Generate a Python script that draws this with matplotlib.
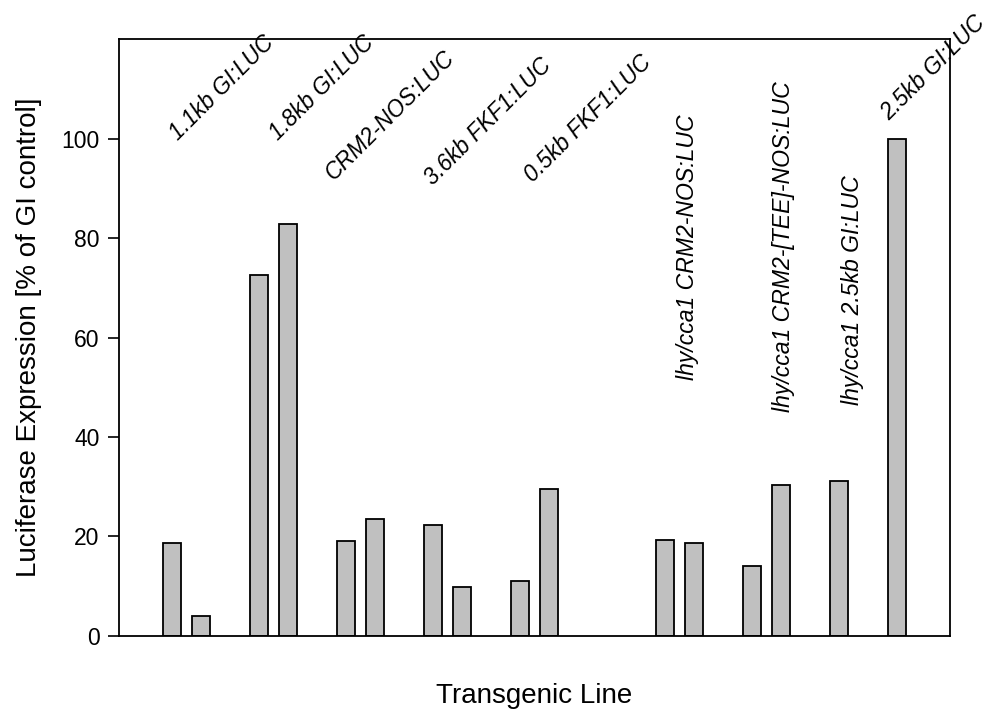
import matplotlib
matplotlib.use("Agg")
import matplotlib.pyplot as plt

# bar positions (slots) and values
positions = [0, 1, 3, 4, 6, 7, 9, 10, 12, 13, 17, 18, 20, 21, 23, 25]
values = [18.7, 4.1, 72.5, 82.9, 19.1, 23.5, 22.4, 9.9, 11.1, 29.5,
          19.3, 18.7, 14.1, 30.3, 31.2, 100.0]

# angled group labels
angled_labels = ["1.1kb GI:LUC", "1.8kb GI:LUC", "CRM2-NOS:LUC",
                 "3.6kb FKF1:LUC", "0.5kb FKF1:LUC", "2.5kb GI:LUC"]
angled_x = [0.2, 3.65, 5.6, 9.0, 12.45, 24.75]
angled_y = [99.5, 99.5, 91.5, 90.5, 91.0, 103.5]

# vertical group labels
vert_labels = ["lhy/cca1 CRM2-NOS:LUC", "lhy/cca1 CRM2-[TEE]-NOS:LUC",
               "lhy/cca1 2.5kb GI:LUC"]
vert_x = [17.77, 21.08, 23.46]
vert_y = [51.4, 45.0, 46.4]

plt.rcParams['font.family'] = ['Liberation Sans', 'DejaVu Sans']

fig = plt.figure(figsize=(9.92, 7.11), dpi=100)
ax = fig.add_axes([0.12, 0.1055, 0.8377, 0.8396])

ax.bar(positions, values, width=0.62, color='#c0c0c0',
       edgecolor='black', linewidth=1.3)

ax.set_xlim(-1.82, 26.84)
ax.set_ylim(0, 120)
ax.set_yticks([0, 20, 40, 60, 80, 100])
ax.set_xticks([])
ax.tick_params(axis='y', direction='out', length=8, width=1.2,
               labelsize=16.5, pad=6)
for s in ax.spines.values():
    s.set_linewidth(1.3)

for t, x, y in zip(angled_labels, angled_x, angled_y):
    ax.text(x, y, t, rotation=45, rotation_mode='anchor', ha='left',
            va='baseline', fontsize=16.3, style='italic', clip_on=False)

for t, x, y in zip(vert_labels, vert_x, vert_y):
    ax.text(x, y, t, rotation=90, rotation_mode='anchor', ha='left',
            va='center', fontsize=16.6, style='italic')

ax.set_ylabel("Luciferase Expression [% of GI control]", fontsize=20, labelpad=14)
ax.set_xlabel("Transgenic Line", fontsize=20, labelpad=34)

fig.savefig("out.png", dpi=100)
